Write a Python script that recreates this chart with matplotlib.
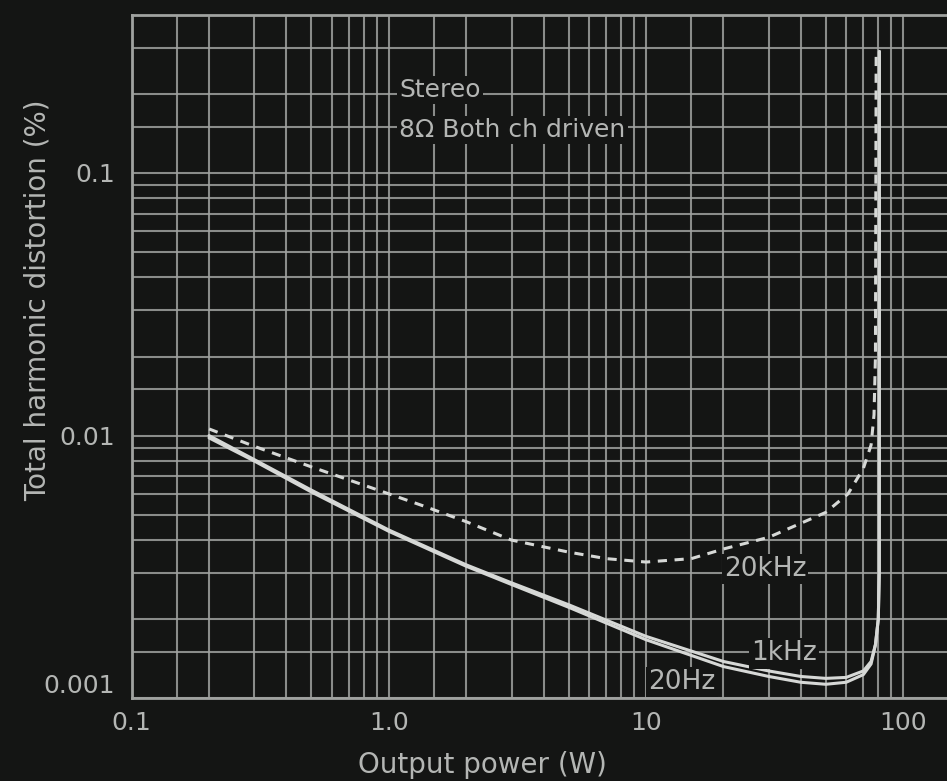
import matplotlib
matplotlib.use("Agg")
import matplotlib.pyplot as plt
from matplotlib.ticker import FixedLocator, NullFormatter

# ---- data ----
p_1k = [0.2, 0.3, 0.5, 1.0, 2.0, 3.0, 5.0, 10, 20, 30, 40, 50, 60, 70, 75, 78, 80, 80.7, 80.8]
thd_1k = [0.0100, 0.0081, 0.0062, 0.00437, 0.00322, 0.00275, 0.00227, 0.00172, 0.00138, 0.00127,
          0.00121, 0.00119, 0.00120, 0.00127, 0.00138, 0.0016, 0.0020, 0.0030, 0.29]

p_20 = [0.2, 0.3, 0.5, 1.0, 2.0, 3.0, 5.0, 10, 20, 30, 40, 50, 60, 70, 75, 78, 80, 80.7, 80.8]
thd_20 = [0.0098, 0.0080, 0.0061, 0.00432, 0.00318, 0.00271, 0.00222, 0.00167, 0.00132, 0.00121,
          0.00115, 0.00113, 0.00115, 0.00123, 0.00135, 0.0016, 0.0020, 0.0030, 0.29]

p_20k = [0.2, 0.3, 0.5, 1.0, 1.36, 2.0, 3.0, 5.0, 7.0, 10, 15, 20, 30, 50, 61, 70, 75, 77, 78, 78.5]
thd_20k = [0.0106, 0.0091, 0.0076, 0.0060, 0.0054, 0.0047, 0.0040, 0.0036,
           0.0034, 0.0033, 0.0034, 0.0037, 0.0041, 0.0051, 0.0060, 0.0075, 0.0092, 0.012, 0.02, 0.29]

x_major = [0.1, 1, 10, 100]
x_labels = ["0.1", "1.0", "10", "100"]
y_major = [0.001, 0.01, 0.1]
y_labels = ["0.001", "0.01", "0.1"]
mults = [1.5, 2, 3, 4, 5, 6, 7, 8, 9]

BG = "#141514"
GRID = "#a0a2a0"
LINE = "#d6d8d6"
TXT = "#b4b6b4"
FONT = ["DejaVu Sans"]

fig = plt.figure(figsize=(9.47, 7.81), dpi=100, facecolor=BG)
ax = fig.add_axes([0.139, 0.106, 0.861, 0.875], facecolor=BG)
ax.set_xscale("log")
ax.set_yscale("log")
ax.set_xlim(0.1, 148)
ax.set_ylim(0.001, 0.4)

x_minor = [m * d for d in [0.1, 1, 10, 100] for m in mults]
y_minor = [m * d for d in [0.001, 0.01, 0.1] for m in mults]
ax.xaxis.set_major_locator(FixedLocator(x_major))
ax.yaxis.set_major_locator(FixedLocator(y_major))
ax.xaxis.set_minor_locator(FixedLocator(x_minor))
ax.yaxis.set_minor_locator(FixedLocator(y_minor))
ax.xaxis.set_minor_formatter(NullFormatter())
ax.yaxis.set_minor_formatter(NullFormatter())
ax.set_xticklabels(x_labels)
ax.set_yticklabels(y_labels)
ax.tick_params(which="both", length=0)
ax.tick_params(axis="x", pad=9, labelsize=18, labelcolor=TXT)
ax.tick_params(axis="y", pad=12, labelsize=18, labelcolor=TXT)
for lab in ax.get_xticklabels() + ax.get_yticklabels():
    lab.set_family(FONT)
ax.get_yticklabels()[0].set_va("bottom")

ax.grid(True, which="both", color=GRID, lw=1.5, alpha=0.85)
ax.set_axisbelow(True)
for s in ["left", "bottom", "top"]:
    ax.spines[s].set_color(GRID)
    ax.spines[s].set_linewidth(2)
ax.spines["right"].set_visible(False)

ax.plot(p_20, thd_20, color=LINE, lw=2.2, solid_capstyle="round")
ax.plot(p_1k, thd_1k, color=LINE, lw=2.2, solid_capstyle="round")
ax.plot(p_20k, thd_20k, color=LINE, lw=2.2, ls=(0, (3, 2.5)))

box = dict(facecolor=BG, edgecolor="none", pad=1.5)
ax.text(1.1, 0.207, "Stereo", color=TXT, fontsize=18, family=FONT, va="center", ha="left", bbox=box)
ax.text(1.1, 0.146, "8Ω Both ch driven", color=TXT, fontsize=18, family=FONT, va="center", ha="left", bbox=box)
ax.text(29, 0.0031, "20kHz", color=TXT, fontsize=19, family=FONT, va="center", ha="center", bbox=box)
ax.text(34.5, 0.00148, "1kHz", color=TXT, fontsize=19, family=FONT, va="center", ha="center", bbox=box)
ax.text(13.8, 0.00115, "20Hz", color=TXT, fontsize=19, family=FONT, va="center", ha="center", bbox=box)

fig.text(0.509, 0.021, "Output power (W)", color=TXT, fontsize=20, family=FONT, ha="center", va="center")
fig.text(0.04, 0.615, "Total harmonic distortion (%)", color=TXT, fontsize=20, family=FONT,
         ha="center", va="center", rotation=90)

fig.savefig("out.png", dpi=100, facecolor=BG)
